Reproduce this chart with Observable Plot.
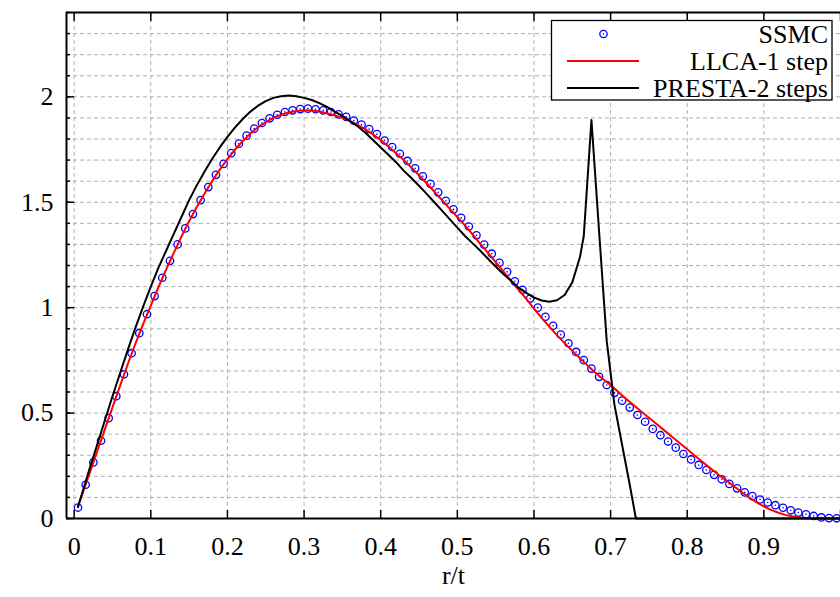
<!DOCTYPE html>
<html><head><meta charset="utf-8">
<script src="https://cdn.jsdelivr.net/npm/d3@7"></script>
<script src="https://cdn.jsdelivr.net/npm/@observablehq/plot@0.6"></script>
<style>
html,body{margin:0;padding:0;background:#fff;}
#wrap{position:relative;width:840px;height:597px;overflow:hidden;}
</style></head><body><div id="wrap"></div>
<script>
// ---- data ----
const ssmcX = [0.005,0.015,0.025,0.035,0.045,0.055,0.065,0.075,0.085,0.095,
  0.105,0.115,0.125,0.135,0.145,0.155,0.165,0.175,0.185,0.195,
  0.205,0.215,0.225,0.235,0.245,0.255,0.265,0.275,0.285,0.295,
  0.305,0.315,0.325,0.335,0.345,0.355,0.365,0.375,0.385,0.395,
  0.405,0.415,0.425,0.435,0.445,0.455,0.465,0.475,0.485,0.495,
  0.505,0.515,0.525,0.535,0.545,0.555,0.565,0.575,0.585,0.595,
  0.605,0.615,0.625,0.635,0.645,0.655,0.665,0.675,0.685,0.695,
  0.705,0.715,0.725,0.735,0.745,0.755,0.765,0.775,0.785,0.795,
  0.805,0.815,0.825,0.835,0.845,0.855,0.865,0.875,0.885,0.895,
  0.905,0.915,0.925,0.935,0.945,0.955,0.965,0.975,0.985,0.995];
const ssmcY = [0.052,0.16,0.266,0.369,0.476,0.58,0.684,0.784,0.879,0.969,
  1.055,1.142,1.222,1.30,1.376,1.444,1.51,1.572,1.63,1.682,
  1.733,1.778,1.816,1.849,1.876,1.898,1.915,1.928,1.936,1.942,
  1.944,1.941,1.936,1.928,1.917,1.905,1.887,1.868,1.847,1.823,
  1.793,1.762,1.73,1.696,1.661,1.623,1.587,1.547,1.507,1.466,
  1.426,1.385,1.343,1.299,1.256,1.213,1.17,1.125,1.085,1.043,
  1.0,0.957,0.914,0.872,0.831,0.79,0.751,0.711,0.672,0.633,
  0.596,0.559,0.526,0.491,0.459,0.425,0.395,0.365,0.336,0.306,
  0.28,0.254,0.23,0.207,0.186,0.164,0.143,0.124,0.106,0.09,
  0.076,0.063,0.051,0.039,0.028,0.02,0.012,0.005,0.002,0.001];

const llcaX = [0.005,0.01,0.02,0.03,0.04,0.05,0.06,0.07,0.08,0.09,
  0.10,0.11,0.12,0.13,0.14,0.15,0.16,0.17,0.18,0.19,
  0.20,0.21,0.22,0.23,0.24,0.25,0.26,0.27,0.28,0.29,
  0.30,0.31,0.32,0.33,0.34,0.35,0.36,0.37,0.38,0.39,
  0.40,0.41,0.42,0.43,0.44,0.45,0.46,0.47,0.48,0.49,
  0.50,0.51,0.52,0.53,0.54,0.55,0.56,0.57,0.58,0.59,
  0.60,0.61,0.62,0.63,0.64,0.65,0.66,0.67,0.68,0.69,
  0.70,0.71,0.72,0.73,0.74,0.75,0.76,0.77,0.78,0.79,
  0.80,0.81,0.82,0.83,0.84,0.85,0.86,0.87,0.88,0.89,
  0.90,0.91,0.92,0.93,0.94,0.95,0.96,0.97,0.98,0.99,1.0];
const llcaY = [0.057,0.11,0.213,0.318,0.423,0.527,0.63,0.733,0.83,0.922,
  1.01,1.098,1.18,1.26,1.337,1.41,1.477,1.54,1.60,1.655,
  1.705,1.75,1.79,1.826,1.856,1.88,1.90,1.915,1.926,1.933,
  1.936,1.935,1.93,1.922,1.912,1.90,1.885,1.867,1.846,1.822,
  1.795,1.765,1.733,1.70,1.665,1.628,1.59,1.55,1.51,1.47,
  1.43,1.39,1.347,1.303,1.26,1.216,1.172,1.128,1.085,1.042,
  0.995,0.952,0.91,0.87,0.832,0.795,0.76,0.725,0.692,0.662,
  0.633,0.60,0.568,0.538,0.508,0.478,0.448,0.418,0.388,0.358,
  0.328,0.298,0.268,0.239,0.21,0.183,0.155,0.128,0.102,0.078,
  0.057,0.04,0.026,0.015,0.008,0.004,0.001,0,0,0,0];

const prestaX = [0.005,0.01,0.02,0.03,0.04,0.05,0.06,0.07,0.08,0.09,
  0.10,0.11,0.12,0.13,0.14,0.15,0.16,0.17,0.18,0.19,
  0.20,0.21,0.22,0.23,0.24,0.25,0.26,0.27,0.28,0.29,
  0.30,0.31,0.32,0.33,0.34,0.35,0.36,0.37,0.38,0.39,
  0.40,0.41,0.42,0.43,0.44,0.45,0.46,0.47,0.48,0.49,
  0.50,0.51,0.52,0.53,0.54,0.55,0.56,0.57,0.58,0.59,
  0.60,0.61,0.62,0.63,0.64,0.65,0.655,0.66,0.665,0.675,
  0.685,0.695,0.705,0.715,0.725,0.733,0.75,0.80,0.90,1.0];
const prestaY = [0.055,0.115,0.235,0.35,0.465,0.58,0.69,0.80,0.905,1.005,
  1.10,1.19,1.27,1.35,1.43,1.51,1.58,1.645,1.705,1.76,
  1.81,1.855,1.895,1.93,1.958,1.98,1.995,2.003,2.006,2.003,
  1.995,1.985,1.97,1.952,1.93,1.91,1.885,1.86,1.83,1.795,
  1.76,1.725,1.69,1.65,1.615,1.578,1.54,1.50,1.46,1.42,
  1.38,1.34,1.305,1.27,1.232,1.195,1.16,1.128,1.095,1.07,
  1.048,1.034,1.028,1.035,1.06,1.12,1.18,1.24,1.34,1.89,
  1.36,0.84,0.54,0.35,0.16,0,0,0,0,0];

const xTickLabels = [0,0.1,0.2,0.3,0.4,0.5,0.6,0.7,0.8,0.9];
const xTicks = [0,0.1,0.2,0.3,0.4,0.5,0.6,0.7,0.8,0.9,1.0];
const yTickLabels = [0,0.5,1,1.5,2];
const yMinor = [0,0.1,0.2,0.3,0.4,0.5,0.6,0.7,0.8,0.9,1.0,1.1,1.2,1.3,1.4,1.5,1.6,1.7,1.8,1.9,2.0,2.1,2.2,2.3,2.4];
const xDomain = [-0.01, 1.0];
const yDomain = [0, 2.4];
const xLabel = "r/t";
const legendLabels = ["SSMC", "LLCA-1 step", "PRESTA-2 steps"];

// ---- build ----
const FONT = "'Liberation Serif', 'Times New Roman', serif";
const ssmc = ssmcX.map((x, i) => ({x, y: ssmcY[i]}));
const llca = llcaX.map((x, i) => ({x, y: llcaY[i]}));
const presta = prestaX.map((x, i) => ({x, y: prestaY[i]}));
const gridStyle = {stroke: "#b0b0b0", strokeOpacity: 1, strokeWidth: 1, strokeDasharray: "4,3"};
const blank = () => "";

const plot = Plot.plot({
  width: 840, height: 597,
  marginLeft: 66, marginRight: 0, marginTop: 12, marginBottom: 79,
  style: {fontFamily: FONT, fontSize: "26px", background: "white", color: "black"},
  x: {domain: xDomain, label: null},
  y: {domain: yDomain, label: null},
  marks: [
    Plot.gridX(xTicks, gridStyle),
    Plot.gridY(yMinor, gridStyle),
    Plot.dot(ssmc, {x: "x", y: "y", r: 3.7, stroke: "#0000ff", strokeWidth: 1.3, fill: "none"}),
    Plot.dot(ssmc, {x: "x", y: "y", r: 0.8, fill: "#0000ff"}),
    Plot.line(llca, {x: "x", y: "y", stroke: "#ff0000", strokeWidth: 2}),
    Plot.line(presta, {x: "x", y: "y", stroke: "black", strokeWidth: 2}),
    Plot.ruleY([yDomain[0], yDomain[1]], {stroke: "black", strokeWidth: 2}),
    Plot.ruleX([xDomain[0]], {stroke: "black", strokeWidth: 2}),
    Plot.axisX(xTickLabels, {anchor: "bottom", tickSize: 0, tickPadding: 18, tickFormat: d => String(d), label: null}),
    Plot.axisX(xTicks, {anchor: "bottom", tickSize: -8, strokeWidth: 1.5, tickFormat: blank, label: null}),
    Plot.axisX(xTicks, {anchor: "top", tickSize: -8, strokeWidth: 1.5, tickFormat: blank, label: null}),
    Plot.axisY(yTickLabels, {anchor: "left", tickSize: 0, tickPadding: 13, tickFormat: d => String(d), label: null}),
    Plot.axisY(yMinor, {anchor: "left", tickSize: -4, strokeWidth: 1.5, tickFormat: blank, label: null}),
    Plot.axisY(yTickLabels, {anchor: "left", tickSize: -8, strokeWidth: 1.5, tickFormat: blank, label: null}),
    Plot.text([xLabel], {frameAnchor: "bottom", dy: 65, text: d => d, fontSize: 26})
  ]
});
document.getElementById("wrap").appendChild(plot);

// ---- legend (overlay) ----
const leg = d3.select("#wrap").append("svg")
  .attr("width", 840).attr("height", 597)
  .style("position", "absolute").style("left", "0px").style("top", "0px")
  .style("font-family", FONT).style("font-size", "26px");
leg.append("rect").attr("x", 551.5).attr("y", 20.5).attr("width", 280.5).attr("height", 79.5)
  .attr("fill", "white").attr("stroke", "black").attr("stroke-width", 1.3);
const rowY = [34, 61, 88];
legendLabels.forEach((lab, i) => {
  leg.append("text").attr("x", 828).attr("y", rowY[i]).attr("dy", "0.34em")
    .attr("text-anchor", "end").attr("fill", "black").text(lab);
});
leg.append("circle").attr("cx", 603.5).attr("cy", rowY[0]).attr("r", 3.7)
  .attr("fill", "none").attr("stroke", "#0000ff").attr("stroke-width", 1.3);
leg.append("circle").attr("cx", 603.5).attr("cy", rowY[0]).attr("r", 0.8).attr("fill", "#0000ff");
leg.append("line").attr("x1", 567).attr("x2", 639).attr("y1", rowY[1]).attr("y2", rowY[1])
  .attr("stroke", "#ff0000").attr("stroke-width", 2);
leg.append("line").attr("x1", 567).attr("x2", 639).attr("y1", rowY[2]).attr("y2", rowY[2])
  .attr("stroke", "black").attr("stroke-width", 2);
</script></body></html>
